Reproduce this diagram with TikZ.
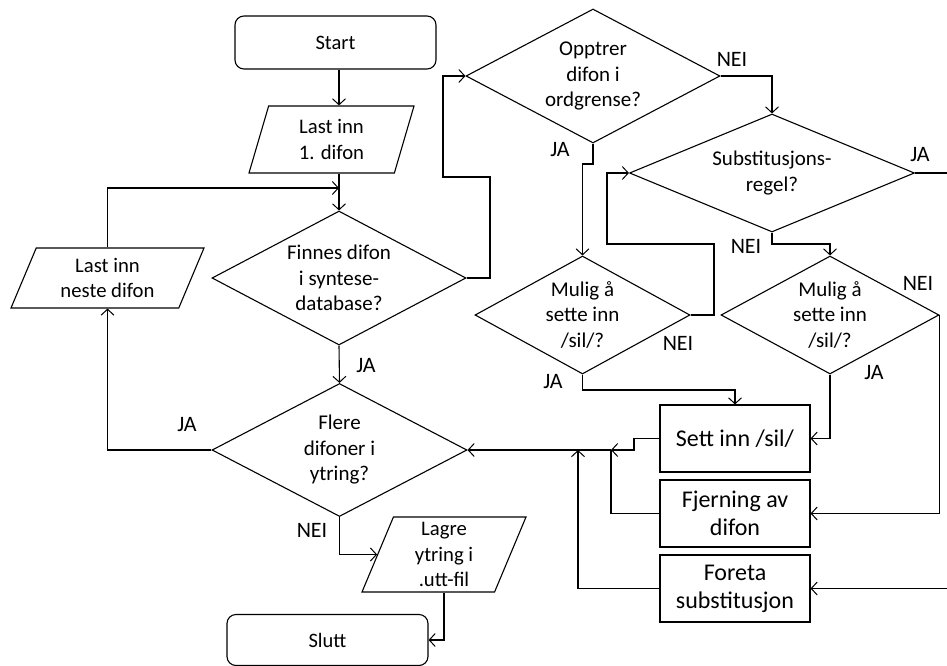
\documentclass[tikz,border=0pt]{standalone}
\usepackage{fontspec}
\setmainfont{Carlito}
\usetikzlibrary{shapes.geometric,arrows.meta}
\newcommand{\fsz}[2]{\fontsize{#1}{#2}\selectfont}
\tikzset{
  base/.style={line width=1.1pt},
  arr/.style={base,-{Straight Barb[length=6pt,width=13pt,line width=1pt]}},
  dia/.style={base,draw,diamond,aspect=2,inner sep=0pt,align=center,font=\fsz{21}{25.5}},
  term/.style={base,draw,rectangle,rounded corners=9pt,inner sep=0pt,font=\fsz{20.5}{25}},
  io/.style={base,draw,trapezium,trapezium stretches body,inner sep=0pt,align=center,font=\fsz{20.7}{25.5}},
  proc/.style={base,draw,rectangle,inner sep=0pt,align=center,minimum width=150pt,minimum height=67pt,font=\fsz{24}{28}},
  lbl/.style={inner sep=0pt,font=\fsz{22}{26}}
}
\begin{document}
\begin{tikzpicture}[x=1pt,y=-1pt]
\useasboundingbox (0,0) rectangle (947,666);
% nodes
\node[term,minimum width=201pt,minimum height=53pt] (start) at (335.5,42.5) {Start};
\node[io,minimum width=165pt,minimum height=67pt,trapezium left angle=63.8,trapezium right angle=116.2] (last1) at (331.5,139.5) {Last inn\\1. difon};
\node[dia,minimum width=254pt,minimum height=134pt] (finnes) at (339,278) {Finnes difon\\i syntese-\\database?};
\node[io,minimum width=193pt,minimum height=60pt,trapezium left angle=57.7,trapezium right angle=122.3] (neste) at (107.5,278) {Last inn\\neste difon};
\node[dia,minimum width=255pt,minimum height=133pt] (flere) at (339.5,450) {Flere\\difoner i\\ytring?};
\node[io,minimum width=164pt,minimum height=75pt,trapezium left angle=64,trapezium right angle=116] (lagre) at (444,554.5) {Lagre\\ytring i\\.utt-fil};
\node[term,minimum width=201pt,minimum height=51pt] (slutt) at (327.5,640) {Slutt};
\node[dia,minimum width=254pt,minimum height=134pt] (opptrer) at (593,76) {Opptrer\\difon i\\ordgrense?};
\node[dia,minimum width=285pt,minimum height=118pt] (subst) at (772,173) {Substitusjons-\\regel?};
\node[dia,minimum width=215pt,minimum height=118pt] (mulig1) at (582.5,315) {Mulig å\\sette inn\\/sil/?};
\node[dia,minimum width=218pt,minimum height=118pt] (mulig2) at (830,315) {Mulig å\\sette inn\\/sil/?};
\node[proc] (sett) at (735,438.5) {Sett inn /sil/};
\node[proc] (fjern) at (735,513.5) {Fjerning av\\difon};
\node[proc] (foreta) at (735,588.5) {Foreta\\substitusjon};
% helper coordinates
\coordinate (j1) at (339,188);
\coordinate (m1) at (611,450);
\coordinate (m2) at (578,450);
\coordinate (rs) at (947,173);
\coordinate (rf) at (947,588.5);
% connectors
\draw[arr] (start.south -| finnes.north) -- (last1.north -| finnes.north);
\draw[arr] (last1.south -| finnes.north) -- (finnes.north);
\draw[arr] (neste.north) |- (j1);
\draw[arr] (finnes.east) -- (490,278) |- (443,177) |- (opptrer.west);
\draw[arr] (finnes.south) -- (flere.north);
\draw[arr] (flere.west) -| (neste.south);
\draw[arr] (flere.south) |- (lagre.west);
\draw[arr] (lagre.south) |- (slutt.east);
\draw[arr] (opptrer.east) -| (subst.north);
\draw[arr] (opptrer.south) -- (593,164) -| (mulig1.north);
\draw[arr] (subst.south) -- (772,244) -| (mulig2.north);
\draw[base] (subst.east) -- (rs);
\draw[arr] (mulig1.east) -| (714,244) -| (607,173) -- (subst.west);
\draw[arr] (mulig1.south) -- (582.5,390) -| (sett.north);
\draw[arr] (mulig2.east) |- (fjern.east);
\draw[arr] (mulig2.south) |- (sett.east);
\draw[arr] (sett.west) -- (634,438.5) |- (m1);
\draw[base] (fjern.west) -| (m1);
\draw[arr] (m1) -- (flere.east);
\draw[arr] (foreta.west) -| (m2);
\draw[arr] (rf) -- (foreta.east);
% labels
\node[lbl] at (366,366) {JA};
\node[lbl] at (187,425) {JA};
\node[lbl] at (312,530) {NEI};
\node[lbl] at (732,59) {NEI};
\node[lbl] at (560,150) {JA};
\node[lbl] at (920,155) {JA};
\node[lbl] at (746,246) {NEI};
\node[lbl] at (678,343) {NEI};
\node[lbl] at (553,382) {JA};
\node[lbl] at (918,283) {NEI};
\node[lbl] at (874,373) {JA};
\end{tikzpicture}
\end{document}
